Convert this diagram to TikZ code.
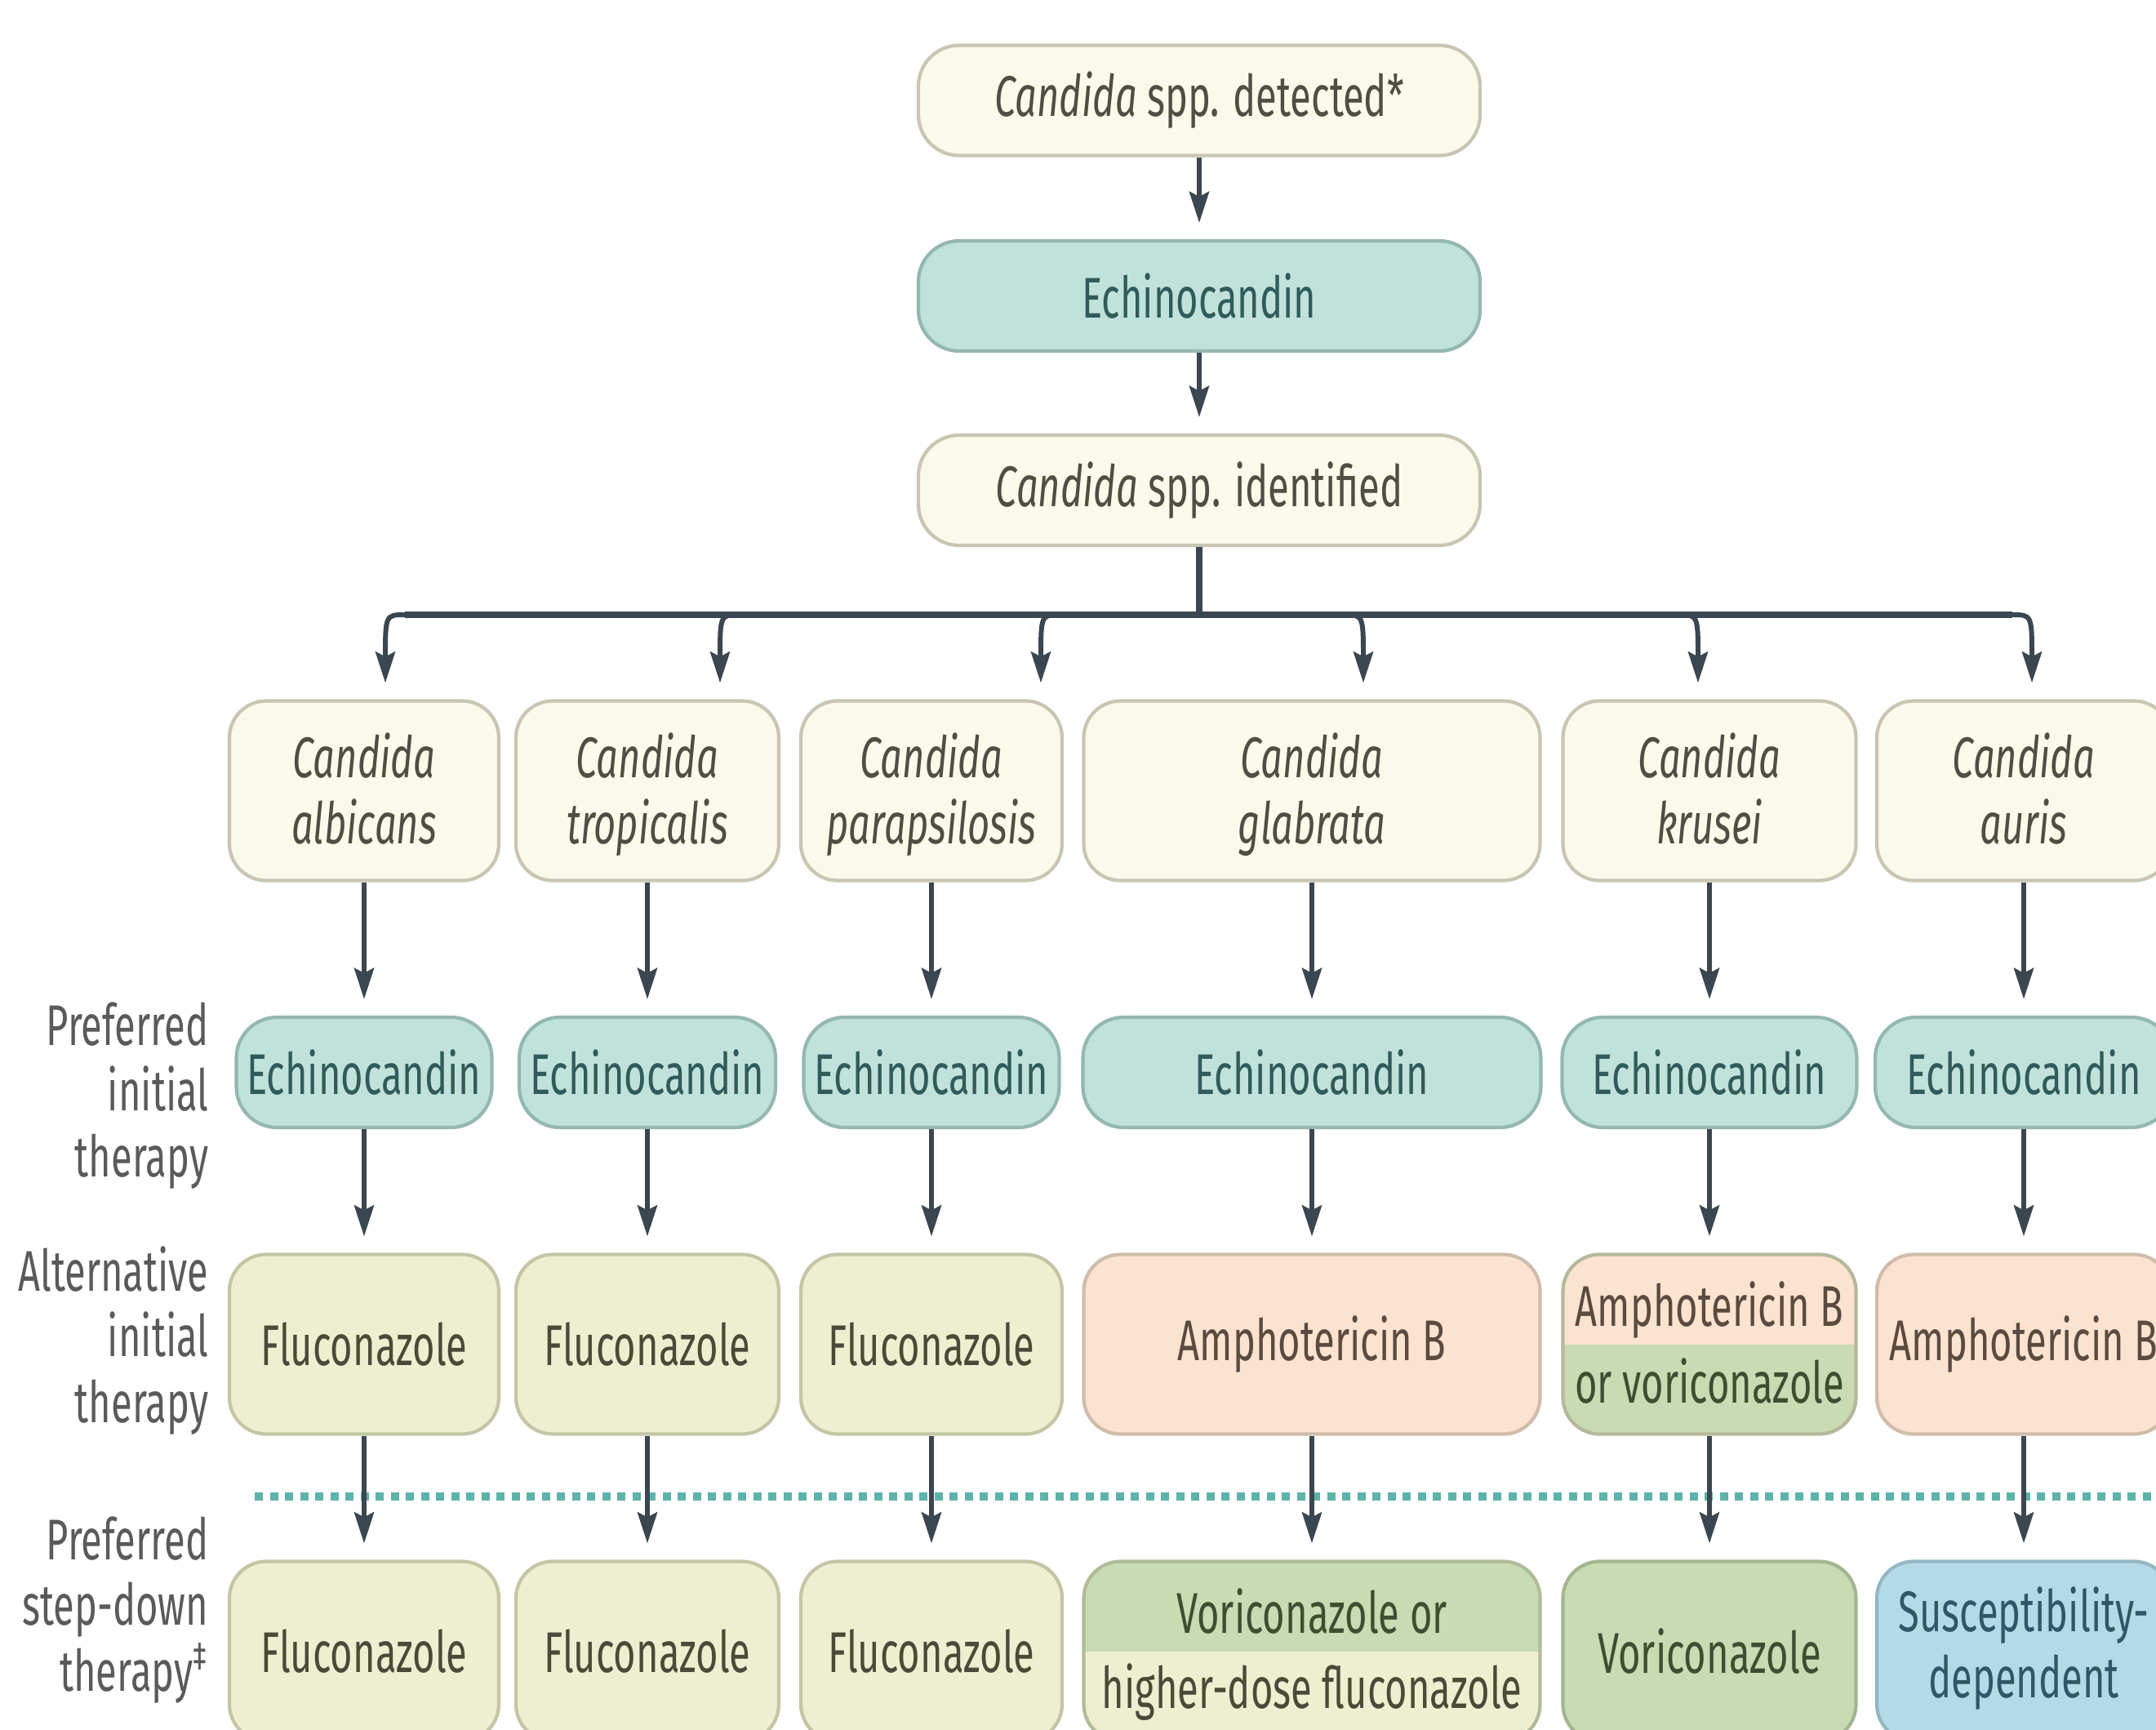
\documentclass[tikz,border=0pt]{standalone}
\usepackage{fontspec}
\setmainfont{Fira Sans}[FakeStretch=0.67]
\usetikzlibrary{arrows.meta,calc}
\definecolor{crF}{HTML}{FBF9E9}
\definecolor{crD}{HTML}{C8C5B2}
\definecolor{crT}{HTML}{4E4E44}
\definecolor{tlF}{HTML}{C1E2DB}
\definecolor{tlD}{HTML}{93B8B0}
\definecolor{tlT}{HTML}{2F5C5A}
\definecolor{ylF}{HTML}{EDEFD0}
\definecolor{ylD}{HTML}{C4C5A5}
\definecolor{ylT}{HTML}{4A4A38}
\definecolor{pcF}{HTML}{FBE3CF}
\definecolor{pcD}{HTML}{CFBCAA}
\definecolor{pcT}{HTML}{5A4A3F}
\definecolor{grF}{HTML}{C8DBB3}
\definecolor{grD}{HTML}{A3B691}
\definecolor{grT}{HTML}{3E4E30}
\definecolor{blF}{HTML}{B5DAE7}
\definecolor{blD}{HTML}{93B7C3}
\definecolor{blT}{HTML}{2E5868}
\definecolor{arC}{HTML}{3B4750}
\definecolor{dotC}{HTML}{5DB3AA}
\definecolor{lbT}{HTML}{5A5A58}
\newcommand{\spname}[2]{\rule{0pt}{21pt}\textit{#1}\\\strut\textit{#2}}
\begin{document}
\begin{tikzpicture}[
  box/.style={draw, rounded corners=0.45cm, line width=1.2pt, align=center, inner sep=0pt, font=\fontsize{20}{23}\selectfont},
  crbox/.style={box, fill=crF, draw=crD, text=crT},
  tlbox/.style={box, fill=tlF, draw=tlD, text=tlT},
  ylbox/.style={box, fill=ylF, draw=ylD, text=ylT},
  pcbox/.style={box, fill=pcF, draw=pcD, text=pcT},
  grbox/.style={box, fill=grF, draw=grD, text=grT},
  blbox/.style={box, fill=blF, draw=blD, text=blT},
  tall/.style={minimum height=2.2cm},
  short/.style={minimum height=1.35cm, rounded corners=0.5cm},
  halftxt/.style={anchor=mid, inner sep=0pt, font=\fontsize{20}{23}\selectfont},
  arr/.style={draw=arC, line width=1.7pt, -{Stealth[length=0.38cm,width=0.24cm,inset=0.06cm]}, shorten >=0.2cm},
  ln/.style={draw=arC, line width=2.4pt},
  lbl/.style={anchor=east, align=right, text=lbT, font=\fontsize{20}{23}\selectfont, inner sep=0pt},
  dotline/.style={draw=dotC, line width=2.6pt, dash pattern=on 0.1cm off 0.085cm}
]
\useasboundingbox (0,0) rectangle (26.41,-21.19);
\clip (0,0) rectangle (26.41,-21.19);
\fill[white] (0,0) rectangle (26.41,-21.19);

% top chain
\node[crbox, short, minimum width=6.88cm] (det) at (14.69,-1.23) {\textit{Candida} spp. detected*};
\node[tlbox, short, minimum width=6.88cm] (ech0) at (14.69,-3.625) {Echinocandin};
\node[crbox, short, minimum width=6.88cm] (idf) at (14.69,-6.005) {\textit{Candida} spp. identified};
\draw[arr] (det.south) -- (ech0.north);
\draw[arr] (ech0.south) -- (idf.north);

% species row
\node[crbox, tall, minimum width=3.30cm] (s1) at (4.46,-9.685) {\spname{Candida}{albicans}};
\node[crbox, tall, minimum width=3.22cm] (s2) at (7.93,-9.685) {\spname{Candida}{tropicalis}};
\node[crbox, tall, minimum width=3.20cm] (s3) at (11.41,-9.685) {\spname{Candida}{parapsilosis}};
\node[crbox, tall, minimum width=5.59cm] (s4) at (16.07,-9.685) {\spname{Candida}{glabrata}};
\node[crbox, tall, minimum width=3.59cm] (s5) at (20.94,-9.685) {\spname{Candida}{krusei}};
\node[crbox, tall, minimum width=3.60cm] (s6) at (24.79,-9.685) {\spname{Candida}{auris}};

% branching
\coordinate (bar) at (14.69,-7.53);
\coordinate (b1) at (4.72,-7.53);
\coordinate (b2) at (8.82,-7.53);
\coordinate (b3) at (12.75,-7.53);
\coordinate (b4) at (16.70,-7.53);
\coordinate (b5) at (20.80,-7.53);
\coordinate (b6) at (24.89,-7.53);
\draw[ln] (idf.south) -- (bar);
\draw[ln] ($(b1)+(0.24,0)$) -- ($(b6)+(-0.24,0)$);
\draw[arr] ($(b1)+(0.24,0)$) .. controls (b1) .. ($(b1)+(0,-0.55)$) -- (b1 |- s1.north);
\draw[arr] ($(b2)+(0.24,0)$) .. controls (b2) .. ($(b2)+(0,-0.55)$) -- (b2 |- s2.north);
\draw[arr] ($(b3)+(0.24,0)$) .. controls (b3) .. ($(b3)+(0,-0.55)$) -- (b3 |- s3.north);
\draw[arr] ($(b4)+(-0.24,0)$) .. controls (b4) .. ($(b4)+(0,-0.55)$) -- (b4 |- s4.north);
\draw[arr] ($(b5)+(-0.24,0)$) .. controls (b5) .. ($(b5)+(0,-0.55)$) -- (b5 |- s5.north);
\draw[arr] ($(b6)+(-0.24,0)$) .. controls (b6) .. ($(b6)+(0,-0.55)$) -- (b6 |- s6.north);

% echinocandin row
\node[tlbox, short, minimum width=3.13cm] (e1) at (4.46,-13.135) {Echinocandin};
\node[tlbox, short, minimum width=3.14cm] (e2) at (7.93,-13.135) {Echinocandin};
\node[tlbox, short, minimum width=3.13cm] (e3) at (11.41,-13.135) {Echinocandin};
\node[tlbox, short, minimum width=5.61cm] (e4) at (16.07,-13.135) {Echinocandin};
\node[tlbox, short, minimum width=3.61cm] (e5) at (20.94,-13.135) {Echinocandin};
\node[tlbox, short, minimum width=3.64cm] (e6) at (24.79,-13.135) {Echinocandin};

% alternative row
\node[ylbox, tall, minimum width=3.30cm] (a1) at (4.46,-16.465) {Fluconazole};
\node[ylbox, tall, minimum width=3.22cm] (a2) at (7.93,-16.465) {Fluconazole};
\node[ylbox, tall, minimum width=3.20cm] (a3) at (11.41,-16.465) {Fluconazole};
\node[pcbox, tall, minimum width=5.59cm] (a4) at (16.07,-16.465) {Amphotericin B};
\node[pcbox, tall, minimum width=3.59cm, draw=grD!60!pcD,
  path picture={\fill[grF, sharp corners] (path picture bounding box.west) rectangle (path picture bounding box.south east);}] (a5) at (20.94,-16.465) {};
\node[halftxt, text=pcT] (a5t) at ($(a5.center)+(0,0.31)$) {Amphotericin B};
\node[halftxt, text=grT] (a5b) at ($(a5.center)+(0,-0.63)$) {or voriconazole};
\node[pcbox, tall, minimum width=3.60cm] (a6) at (24.79,-16.465) {Amphotericin B};

% dotted separator
\coordinate (dl) at (3.12,-18.33);
\coordinate (dr) at (26.6,-18.33);
\draw[dotline] (dl) -- (dr);

% step-down row
\node[ylbox, tall, minimum width=3.30cm] (d1) at (4.46,-20.225) {Fluconazole};
\node[ylbox, tall, minimum width=3.22cm] (d2) at (7.93,-20.225) {Fluconazole};
\node[ylbox, tall, minimum width=3.20cm] (d3) at (11.41,-20.225) {Fluconazole};
\node[grbox, tall, minimum width=5.59cm, draw=grD!60!ylD,
  path picture={\fill[ylF, sharp corners] (path picture bounding box.west) rectangle (path picture bounding box.south east);}] (d4) at (16.07,-20.225) {};
\node[halftxt, text=grT] (d4t) at ($(d4.center)+(0,0.31)$) {Voriconazole or};
\node[halftxt, text=ylT] (d4b) at ($(d4.center)+(0,-0.61)$) {higher-dose fluconazole};
\node[grbox, tall, minimum width=3.59cm] (d5) at (20.94,-20.225) {Voriconazole};
\node[blbox, tall, minimum width=3.60cm] (d6) at (24.79,-20.225) {\strut Susceptibility-\\\strut dependent};

% column arrows
\foreach \i in {1,...,6}{
  \draw[arr] (s\i.south) -- (e\i.north);
  \draw[arr] (e\i.south) -- (a\i.north);
  \draw[arr] (a\i.south) -- (d\i.north);
}

% left labels
\node[lbl] (l1) at (2.56,-13.42) {Preferred\\initial\\therapy};
\node[lbl] (l2) at (2.56,-16.42) {Alternative\\initial\\therapy};
\node[lbl] (l3) at (2.56,-19.72) {Preferred\\step-down\\therapy\textsuperscript{‡}};
\end{tikzpicture}
\end{document}
